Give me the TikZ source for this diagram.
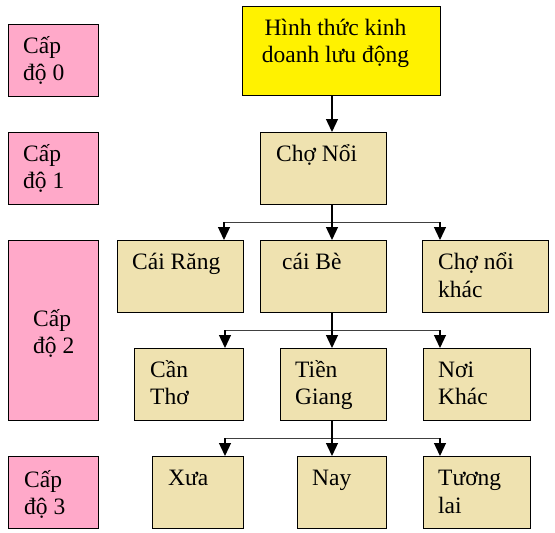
\documentclass[tikz,border=0pt]{standalone}
\usepackage{fontspec}
\setmainfont{Liberation Serif}
\usetikzlibrary{arrows.meta}
\definecolor{pinkc}{HTML}{FFA9C9}
\definecolor{tanc}{HTML}{EFE2B0}
\definecolor{yelc}{HTML}{FFF200}
\tikzset{
  box/.style={draw=black, line width=0.9pt, anchor=north west, inner sep=0pt, outer sep=0pt},
  txt/.style={anchor=base west, inner sep=0pt, font=\fontsize{23.5}{27}\selectfont},
  ctxt/.style={anchor=base, inner sep=0pt, font=\fontsize{23.5}{27}\selectfont},
  vline/.style={draw=black, line width=1.3pt},
  hline/.style={draw=black!75, line width=1pt},
  arr/.style={draw=black, line width=1.3pt, -{Triangle[length=13pt,width=12pt]}}
}
\begin{document}
\begin{tikzpicture}[x=1pt,y=-1pt]
\useasboundingbox (0,0) rectangle (555,533);
% level boxes
\node[box, fill=pinkc, minimum width=90pt, minimum height=72pt] (l0) at (8,24) {};
\node[box, fill=pinkc, minimum width=90pt, minimum height=72pt] (l1) at (8,132) {};
\node[box, fill=pinkc, minimum width=90pt, minimum height=180pt] (l2) at (8,240) {};
\node[box, fill=pinkc, minimum width=90pt, minimum height=72pt] (l3) at (8,456) {};
\node[txt] (l0a) at (23,53) {Cấp};
\node[txt] (l0b) at (23,80) {độ 0};
\node[txt] (l1a) at (23,161) {Cấp};
\node[txt] (l1b) at (23,188) {độ 1};
\node[txt] (l2a) at (33,326) {Cấp};
\node[txt] (l2b) at (33,353) {độ 2};
\node[txt] (l3a) at (24,487) {Cấp};
\node[txt] (l3b) at (24,514) {độ 3};
% tree boxes
\node[box, fill=yelc, minimum width=198pt, minimum height=89pt] (top) at (242,6) {};
\node[ctxt] (topa) at (335.5,35) {Hình thức kinh};
\node[ctxt] (topb) at (335.5,62) {doanh lưu động};
\node[box, fill=tanc, minimum width=126pt, minimum height=72pt] (cho) at (260,132) {};
\node[txt] (choa) at (276,161) {Chợ Nổi};
\node[box, fill=tanc, minimum width=126pt, minimum height=72pt] (cr) at (117,240) {};
\node[txt] (cra) at (132,269) {Cái Răng};
\node[box, fill=tanc, minimum width=126pt, minimum height=72pt] (cb) at (260,240) {};
\node[txt] (cba) at (282,269) {cái Bè};
\node[box, fill=tanc, minimum width=126pt, minimum height=72pt] (cnk) at (422,240) {};
\node[txt] (cnka) at (438,269) {Chợ nổi};
\node[txt] (cnkb) at (438,297) {khác};
\node[box, fill=tanc, minimum width=109pt, minimum height=72pt] (ct) at (134,348) {};
\node[txt] (cta) at (150,377) {Cần};
\node[txt] (ctb) at (150,404) {Thơ};
\node[box, fill=tanc, minimum width=106pt, minimum height=72pt] (tg) at (280,348) {};
\node[txt] (tga) at (295,377) {Tiền};
\node[txt] (tgb) at (295,404) {Giang};
\node[box, fill=tanc, minimum width=107pt, minimum height=72pt] (nk) at (423,348) {};
\node[txt] (nka) at (438,377) {Nơi};
\node[txt] (nkb) at (438,404) {Khác};
\node[box, fill=tanc, minimum width=91pt, minimum height=72pt] (xua) at (152,456) {};
\node[txt] (xuaa) at (168,485) {Xưa};
\node[box, fill=tanc, minimum width=89pt, minimum height=72pt] (nay) at (297,456) {};
\node[txt] (naya) at (312,485) {Nay};
\node[box, fill=tanc, minimum width=107pt, minimum height=72pt] (tl) at (423,456) {};
\node[txt] (tla) at (438,485) {Tương};
\node[txt] (tlb) at (438,513) {lai};
% connectors
\coordinate (c0) at (332,95);
\draw[arr] (c0) -- (cho.north -| c0);
% level 1 -> 2
\coordinate (h1) at (332,222);
\coordinate (h1l) at (224,222);
\coordinate (h1r) at (440,222);
\draw[hline] (h1l) -- (h1r);
\draw[vline] (cho.south -| h1) -- (h1);
\draw[arr] (h1l) -- (cr.north -| h1l);
\draw[arr] (h1) -- (cb.north -| h1);
\draw[arr] (h1r) -- (cnk.north -| h1r);
% level 2 -> 3
\coordinate (h2) at (332,330);
\coordinate (h2l) at (225,330);
\coordinate (h2r) at (440,330);
\draw[hline] (h2l) -- (h2r);
\draw[vline] (cb.south -| h2) -- (h2);
\draw[arr] (h2l) -- (ct.north -| h2l);
\draw[arr] (h2) -- (tg.north -| h2);
\draw[arr] (h2r) -- (nk.north -| h2r);
% level 3 -> 4
\coordinate (h3) at (332,438);
\coordinate (h3l) at (225,438);
\coordinate (h3r) at (440,438);
\draw[hline] (h3l) -- (h3r);
\draw[vline] (tg.south -| h3) -- (h3);
\draw[arr] (h3l) -- (xua.north -| h3l);
\draw[arr] (h3) -- (nay.north -| h3);
\draw[arr] (h3r) -- (tl.north -| h3r);
\end{tikzpicture}
\end{document}
